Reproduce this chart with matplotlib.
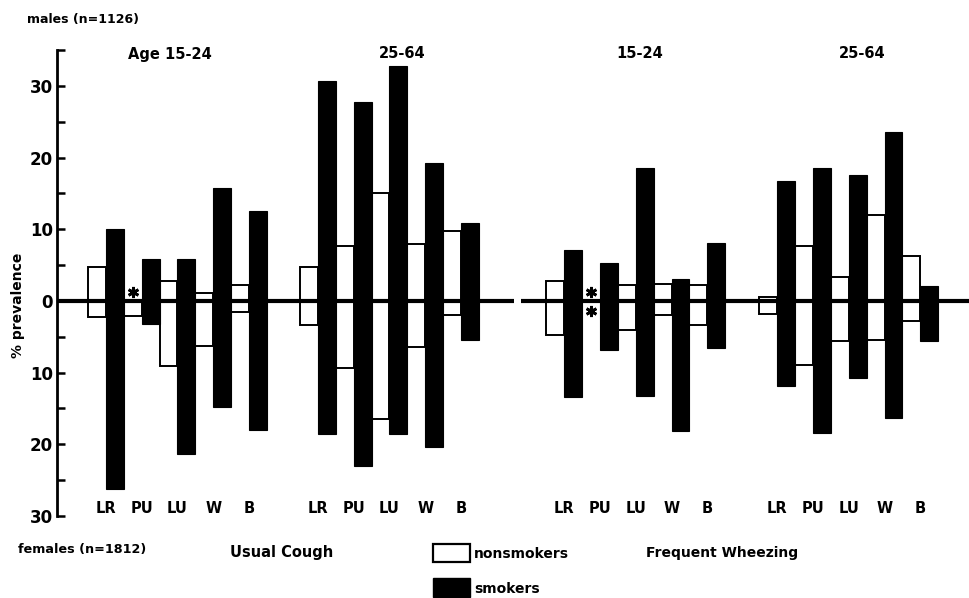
import matplotlib
matplotlib.use("Agg")
import matplotlib.pyplot as plt
from matplotlib.patches import Rectangle
import numpy as np

plt.rcParams['font.family'] = ['DejaVu Sans']
plt.rcParams['font.weight'] = 'bold'

# ---------------- data ----------------
categories = ["LR", "PU", "LU", "W", "B"]
symptoms = ["Usual Cough", "Frequent Wheezing"]
panel_titles = ["Age 15-24", "25-64", "15-24", "25-64"]

# % prevalence, males (upper half)
male_nonsmokers = [
    [4.8, 0.0, 2.8, 1.1, 2.2],
    [4.7, 7.7, 15.0, 8.0, 9.7],
    [2.8, 0.0, 2.2, 2.4, 2.2],
    [0.5, 7.7, 3.4, 12.0, 6.3],
]
male_smokers = [
    [10.0, 5.8, 5.8, 15.7, 12.6],
    [30.7, 27.7, 32.7, 19.2, 10.8],
    [7.1, 5.3, 18.5, 3.1, 8.1],
    [16.7, 18.5, 17.5, 23.6, 2.1],
]
# % prevalence, females (lower half)
female_nonsmokers = [
    [2.3, 2.1, 9.1, 6.3, 1.6],
    [3.3, 9.3, 16.5, 6.4, 2.0],
    [4.8, 0.0, 4.1, 1.9, 3.4],
    [1.8, 8.9, 5.6, 5.5, 2.8],
]
female_smokers = [
    [26.2, 3.2, 21.3, 14.8, 18.0],
    [18.5, 23.0, 18.5, 20.4, 5.4],
    [13.4, 6.9, 13.2, 18.2, 6.6],
    [11.9, 18.4, 10.7, 16.3, 5.6],
]
y_major = [-30, -20, -10, 0, 10, 20, 30]
y_minor = [-25, -15, -5, 5, 15, 25, 35]

# ---------------- layout ----------------
W, H = 970, 598
fig = plt.figure(figsize=(W / 100, H / 100), dpi=100)
BAR_PX = 17.9
X0_PX = 88
AX_LEFT_PX, AX_RIGHT_PX = 57, 970
AX_TOP_PX, AX_BOT_PX = 50, 516
ax = fig.add_axes([AX_LEFT_PX / W, (H - AX_BOT_PX) / H,
                   (AX_RIGHT_PX - AX_LEFT_PX) / W, (AX_BOT_PX - AX_TOP_PX) / H])
xmin = (AX_LEFT_PX - X0_PX) / BAR_PX
xmax = (AX_RIGHT_PX - X0_PX) / BAR_PX
ax.set_xlim(xmin, xmax)
ax.set_ylim(-30, 35)

panel_starts = [0.0, 11.84, 25.6, 37.5]
title_x_px = [170, 402, 640, 862]


def px(x, y):
    return x / W, 1 - y / H


for p, start in enumerate(panel_starts):
    xs_ns = start + 2 * np.arange(len(categories))
    xs_sm = xs_ns + 1
    kw_ns = dict(width=1.0, align='edge', facecolor='white', edgecolor='black',
                 linewidth=1.4, zorder=2)
    kw_sm = dict(width=1.0, align='edge', facecolor='black', edgecolor='black',
                 linewidth=0.8, zorder=3)
    ax.bar(xs_ns, male_nonsmokers[p], **kw_ns)
    ax.bar(xs_ns, -np.array(female_nonsmokers[p]), **kw_ns)
    ax.bar(xs_sm, male_smokers[p], **kw_sm)
    ax.bar(xs_sm, -np.array(female_smokers[p]), **kw_sm)
    # asterisks where nonsmoker prevalence is zero
    for i, (m, f) in enumerate(zip(male_nonsmokers[p], female_nonsmokers[p])):
        if m == 0:
            ax.plot(xs_ns[i] + 0.5, 1.2, marker=(6, 2, 0), ms=8, mew=2.0,
                    color='black', zorder=5)
        if f == 0:
            ax.plot(xs_ns[i] + 0.5, -1.4, marker=(6, 2, 0), ms=8, mew=2.0,
                    color='black', zorder=5)
    for i, c in enumerate(categories):
        ax.text(xs_ns[i] + 1.0, -28.9, c, ha='center', va='center',
                fontsize=10.5, fontweight='bold')
    fig.text(*px(title_x_px[p], 54), panel_titles[p], ha='center', va='center',
             fontsize=10.5, fontweight='bold')

# zero line with a break between the two symptoms
brk0 = (514 - X0_PX) / BAR_PX
brk1 = (521 - X0_PX) / BAR_PX
ax.plot([xmin, brk0], [0, 0], color='black', lw=3.0, zorder=4,
        solid_capstyle='butt', clip_on=False)
ax.plot([brk1, xmax], [0, 0], color='black', lw=3.0, zorder=4,
        solid_capstyle='butt', clip_on=False)

# axes styling
for s in ['top', 'right', 'bottom']:
    ax.spines[s].set_visible(False)
ax.spines['left'].set_linewidth(2.0)
ax.set_xticks([])
ax.set_yticks(y_major)
ax.set_yticklabels([str(abs(v)) for v in y_major])
ax.set_yticks(y_minor, minor=True)
ax.tick_params(axis='y', which='both', direction='in', length=6, width=1.8,
               pad=3, labelsize=12)
for lab in ax.get_yticklabels():
    lab.set_fontweight('bold')
ax.set_facecolor('none')

fig.text(*px(27, 19), "males (n=1126)", fontsize=9, fontweight='bold',
         ha='left', va='center')
fig.text(*px(18, 550), "females (n=1812)", fontsize=9.2, fontweight='bold',
         ha='left', va='center')
fig.text(*px(18, 305), "% prevalence", fontsize=10, fontweight='bold',
         ha='center', va='center', rotation=90)
fig.text(*px(282, 553), symptoms[0], fontsize=10.5, fontweight='bold',
         ha='center', va='center')
fig.text(*px(722, 553), symptoms[1], fontsize=10, fontweight='bold',
         ha='center', va='center')

# legend
fig.add_artist(Rectangle(px(433, 562), 37 / W, 18 / H, transform=fig.transFigure,
                         facecolor='white', edgecolor='black', lw=1.6))
fig.add_artist(Rectangle(px(433, 597), 37 / W, 19 / H, transform=fig.transFigure,
                         facecolor='black', edgecolor='black', lw=1.0))
fig.text(*px(474, 554), "nonsmokers", fontsize=10, fontweight='bold',
         ha='left', va='center')
fig.text(*px(474, 589), "smokers", fontsize=10, fontweight='bold',
         ha='left', va='center')

fig.savefig("out.png", dpi=100, facecolor='white')
